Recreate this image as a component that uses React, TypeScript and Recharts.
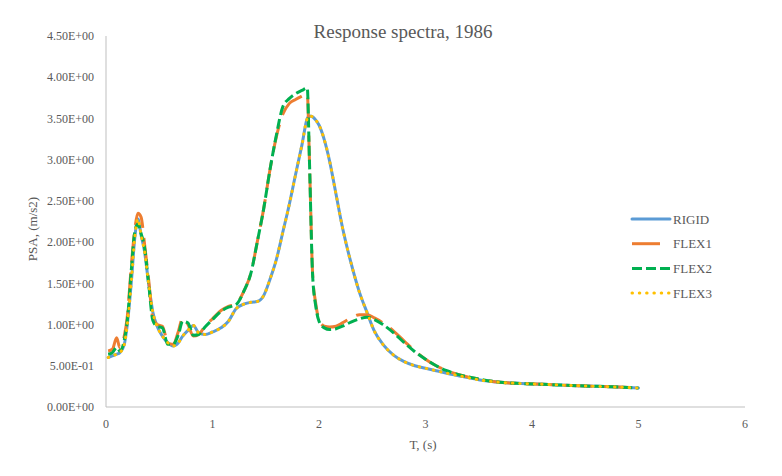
import React from 'react'
import { LineChart, Line, XAxis, YAxis } from 'recharts'

// periods, s
const periods = [
  0.02, 0.06, 0.10, 0.13, 0.17, 0.20, 0.24, 0.27, 0.30, 0.33, 0.36, 0.40, 0.44, 0.48,
  0.53, 0.58, 0.63, 0.68, 0.72, 0.77, 0.82, 0.87, 0.93, 1.00, 1.08, 1.15, 1.22, 1.30,
  1.36, 1.42, 1.48, 1.54, 1.60, 1.66, 1.72, 1.78, 1.84, 1.89, 1.91, 1.94, 1.97, 2.00,
  2.05, 2.10, 2.16, 2.22, 2.30, 2.38, 2.45, 2.52, 2.60, 2.70, 2.80, 2.90, 3.00, 3.10,
  3.20, 3.35, 3.50, 3.70, 3.90, 4.10, 4.30, 4.50, 4.75, 5.00,
]

const rigid = [
  0.60, 0.62, 0.64, 0.66, 0.75, 1.00, 1.55, 2.05, 2.28, 2.08, 1.90, 1.50, 1.15, 0.98,
  0.86, 0.78, 0.74, 0.78, 0.86, 0.93, 0.99, 0.90, 0.88, 0.91, 0.96, 1.04, 1.19, 1.25,
  1.27, 1.28, 1.35, 1.55, 1.79, 2.12, 2.45, 2.82, 3.18, 3.50, 3.53, 3.52, 3.48, 3.42,
  3.24, 2.98, 2.58, 2.18, 1.75, 1.39, 1.15, 0.92, 0.76, 0.63, 0.55, 0.50, 0.47, 0.44,
  0.41, 0.37, 0.33, 0.30, 0.285, 0.275, 0.265, 0.255, 0.245, 0.23,
]

const flex1 = [
  0.68, 0.70, 0.84, 0.72, 0.85, 1.10, 1.75, 2.15, 2.35, 2.30, 2.00, 1.55, 1.08, 1.00,
  0.98, 0.78, 0.76, 0.92, 1.08, 1.00, 0.86, 0.88, 0.98, 1.07, 1.17, 1.22, 1.25, 1.42,
  1.62, 2.00, 2.40, 2.88, 3.28, 3.55, 3.68, 3.73, 3.77, 3.80, 3.00, 1.62, 1.25, 1.06,
  0.98, 0.97, 0.98, 1.02, 1.08, 1.12, 1.12, 1.08, 1.02, 0.92, 0.80, 0.68, 0.58, 0.50,
  0.44, 0.38, 0.34, 0.30, 0.285, 0.275, 0.265, 0.255, 0.245, 0.23,
]

const flex2 = [
  0.64, 0.66, 0.72, 0.68, 0.80, 1.05, 1.70, 2.12, 2.22, 2.10, 1.95, 1.50, 1.05, 0.98,
  0.96, 0.76, 0.76, 0.88, 1.04, 1.02, 0.87, 0.88, 0.97, 1.06, 1.16, 1.21, 1.24, 1.42,
  1.62, 2.00, 2.40, 2.88, 3.30, 3.64, 3.74, 3.80, 3.84, 3.87, 3.00, 1.60, 1.22, 1.04,
  0.96, 0.94, 0.95, 0.98, 1.03, 1.07, 1.09, 1.06, 1.00, 0.90, 0.78, 0.67, 0.58, 0.50,
  0.44, 0.38, 0.34, 0.30, 0.285, 0.275, 0.265, 0.255, 0.245, 0.23,
]

const flex3 = [
  0.60, 0.62, 0.64, 0.66, 0.75, 1.00, 1.55, 2.05, 2.28, 2.08, 1.90, 1.50, 1.15, 0.98,
  0.86, 0.78, 0.74, 0.78, 0.86, 0.93, 0.99, 0.90, 0.88, 0.91, 0.96, 1.04, 1.19, 1.25,
  1.27, 1.28, 1.35, 1.55, 1.79, 2.12, 2.45, 2.82, 3.18, 3.50, 3.53, 3.52, 3.48, 3.42,
  3.24, 2.98, 2.58, 2.18, 1.75, 1.39, 1.15, 0.92, 0.76, 0.63, 0.55, 0.50, 0.47, 0.44,
  0.41, 0.37, 0.33, 0.30, 0.285, 0.275, 0.265, 0.255, 0.245, 0.23,
]

const xTicks = [0, 1, 2, 3, 4, 5, 6]
const yTicks = [0, 0.5, 1, 1.5, 2, 2.5, 3, 3.5, 4, 4.5]

const data = periods.map((t, i) => ({
  t, rigid: rigid[i], flex1: flex1[i], flex2: flex2[i], flex3: flex3[i],
}))

const FONT = '"Liberation Serif", "Times New Roman", serif'
const TEXT = '#595959'
const AXIS = '#bfbfbf'

const series = [
  { key: 'rigid', name: 'RIGID', color: '#5b9bd5', dash: undefined, cap: 'round' },
  { key: 'flex1', name: 'FLEX1', color: '#ed7d31', dash: '28 10', cap: 'butt' },
  { key: 'flex2', name: 'FLEX2', color: '#00b050', dash: '10 4', cap: 'butt' },
  { key: 'flex3', name: 'FLEX3', color: '#ffc000', dash: '0.5 6.8', cap: 'round' },
]

function sci(v: number): string {
  if (v === 0) return '0.00E+00'
  const [m, e] = v.toExponential(2).split('e')
  const n = parseInt(e, 10)
  const sign = n < 0 ? '-' : '+'
  return `${m}E${sign}${String(Math.abs(n)).padStart(2, '0')}`
}

const LegendBox = () => (
  <svg width={100} height={100} style={{ position: 'absolute', left: 622, top: 201 }}>
    {series.map((s, i) => (
      <g key={s.key} transform={`translate(0, ${10 + i * 24.7})`}>
        <line x1={2} x2={40} y1={0} y2={0} stroke={s.color} strokeWidth={3}
          strokeDasharray={s.dash} strokeLinecap={s.cap as any} />
        <text x={43} y={0} dy="0.35em" fill={TEXT} fontSize={13} fontFamily={FONT}>{s.name}</text>
      </g>
    ))}
  </svg>
)

export default function App() {
  return (
    <div style={{
      position: 'relative', width: 768, height: 470, border: '1px solid #d9d9d9',
      background: '#fff', fontFamily: FONT, marginLeft: -1, marginTop: -1,
    }}>
      <div style={{
        position: 'absolute', left: 0, width: 790, top: 13, textAlign: 'center',
        fontSize: 19, color: TEXT,
      }}>
        Response spectra, 1986
      </div>
      <div style={{
        position: 'absolute', left: 25, top: 221, width: 0, height: 0,
      }}>
        <div style={{
          position: 'absolute', transform: 'translate(-50%, -50%) rotate(-90deg)',
          whiteSpace: 'nowrap', fontSize: 13, color: TEXT,
        }}>PSA, (m/s2)</div>
      </div>
      <div style={{
        position: 'absolute', left: 415, top: 429, transform: 'translateX(-50%)',
        fontSize: 13, color: TEXT, whiteSpace: 'nowrap',
      }}>T, (s)</div>

      <LineChart width={768} height={470} data={data}
        margin={{ top: 28, right: 31, left: 0, bottom: 41 }}>
        <XAxis dataKey="t" type="number" domain={[0, 6]} ticks={xTicks}
          axisLine={{ stroke: AXIS }} tickLine={false} tickMargin={6}
          tick={{ fill: TEXT, fontSize: 12, fontFamily: FONT }} height={30} />
        <YAxis type="number" domain={[0, 4.5]} ticks={yTicks} tickFormatter={sci}
          axisLine={{ stroke: AXIS }} tickLine={false} tickMargin={6} width={98}
          tick={{ fill: TEXT, fontSize: 12, fontFamily: FONT }} />
        {series.map((s) => (
          <Line key={s.key} dataKey={s.key} name={s.name} type="monotone"
            stroke={s.color} strokeWidth={3} strokeDasharray={s.dash}
            strokeLinecap={s.cap as any} dot={false} activeDot={false}
            isAnimationActive={false} />
        ))}
      </LineChart>
      <LegendBox />
    </div>
  )
}
